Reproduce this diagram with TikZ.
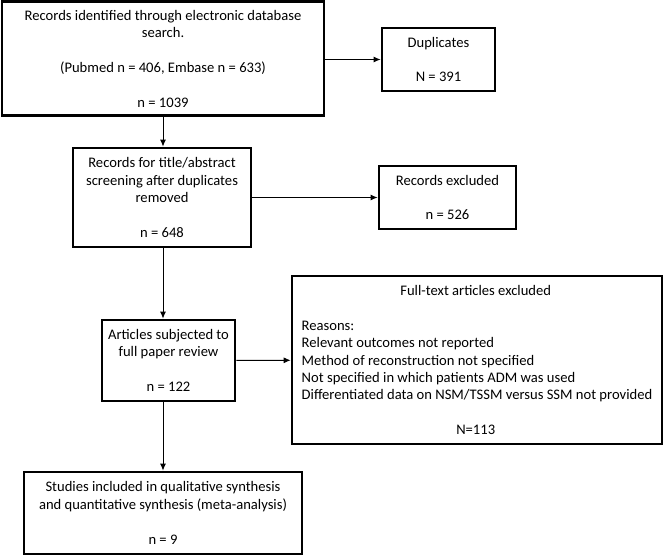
\documentclass[tikz,border=0pt]{standalone}
\usepackage{fontspec}
\setmainfont{Carlito}
\usepackage{tikz}
\usetikzlibrary{arrows.meta}

\begin{document}
\begin{tikzpicture}[x=1pt,y=-1pt,
    box/.style={draw, line width=2.8pt, inner sep=0pt, align=center,
      font=\fontsize{14.6}{17.4}\selectfont},
    >={Latex[length=7pt,width=6pt]}, line width=0.9pt]
  \useasboundingbox (0,0) rectangle (666,556);

    \node (rec) [box, minimum width=322pt, minimum height=114pt] at (163,58.5)
      {Records identified through electronic database\\search.\\[17.4pt](Pubmed n = 406, Embase n = 633)\\[17.4pt]n = 1039};
    \node (dup) [box, minimum width=113pt, minimum height=63pt] at (438.5,59.5)
      {Duplicates\\[17.4pt]N = 391};
    \node (scr) [box, minimum width=178pt, minimum height=99pt] at (162,197.5)
      {Records for title/abstract\\screening after duplicates\\removed\\[17.4pt]n = 648};
    \node (exc) [box, minimum width=137pt, minimum height=63pt] at (447.5,197.5)
      {Records excluded\\[17.4pt]n = 526};
    \node (full) [box, minimum width=133pt, minimum height=81pt] at (168.5,360.5)
      {Articles subjected to\\full paper review\\[17.4pt]n = 122};
    \node (ftx) [box, align=left, minimum width=370pt, minimum height=168pt] at (477,360)
      {\makebox[348pt]{Full-text articles excluded}\\[17.4pt]
       Reasons:\\
       Relevant outcomes not reported\\
       Method of reconstruction not specified\\
       Not specified in which patients ADM was used\\
       Differentiated data on NSM/TSSM versus SSM not provided\\[17.4pt]
       \makebox[348pt]{N=113}};
    \node (inc) [box, minimum width=278pt, minimum height=82pt] at (163,513)
      {Studies included in qualitative synthesis\\and quantitative synthesis (meta-analysis)\\[17.4pt]n = 9};

  \draw [->] (rec.east |- dup) -- (dup.west);
  \draw [->] (scr) -- (exc);
  \draw [->] (full) -- (ftx);
  \draw [->] (rec.south -| 163,0) -- (scr.north -| 163,0);
  \draw [->] (scr.south -| 163,0) -- (full.north -| 163,0);
  \draw [->] (full.south -| 163,0) -- (inc.north -| 163,0);
\end{tikzpicture}
\end{document}
